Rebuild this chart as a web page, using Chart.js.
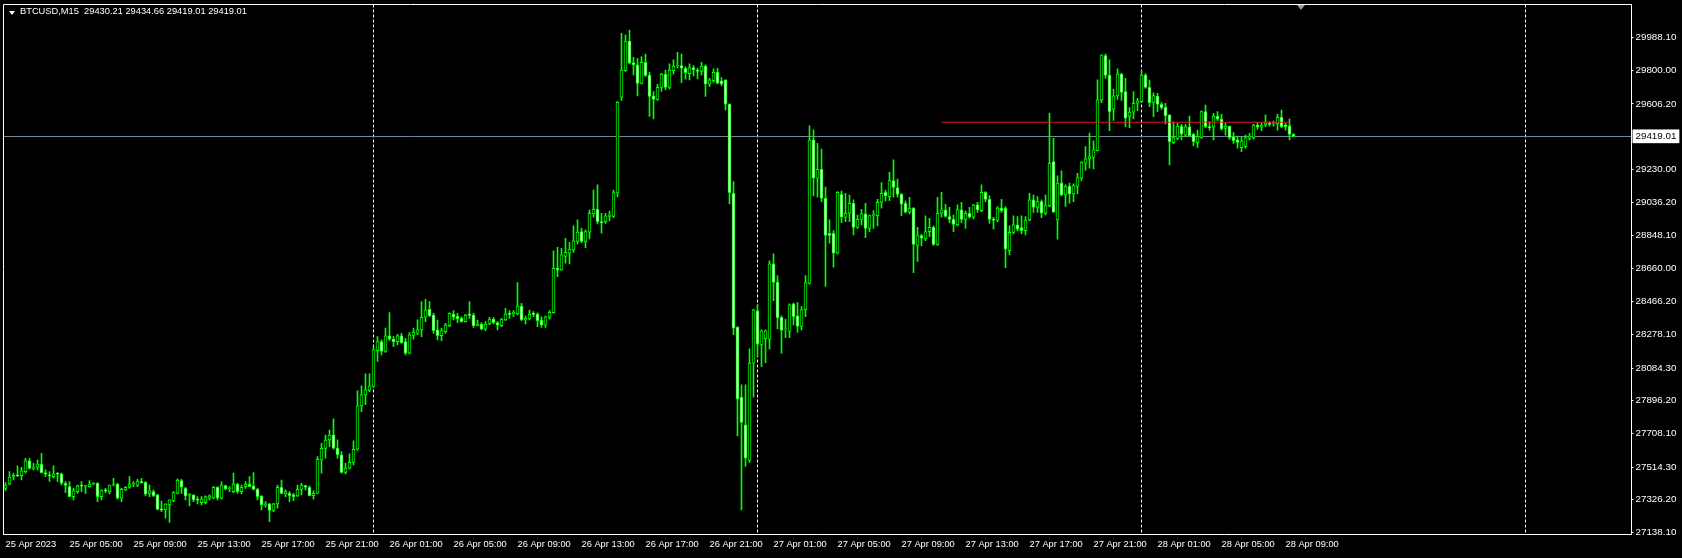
<!DOCTYPE html>
<html>
<head>
<meta charset="utf-8">
<title>BTCUSD,M15</title>
<script src="https://cdn.jsdelivr.net/npm/chart.js@4.4.1/dist/chart.umd.min.js"></script>
<style>
  html, body { margin: 0; padding: 0; background: #000; }
  #wrap { position: relative; width: 1682px; height: 558px; overflow: hidden; background: #000; }
  canvas { display: block; }
  #caption {
    position: absolute; left: 20px; top: 6px;
    color: #fff; font: 9.3px "Liberation Sans", Arial, sans-serif; white-space: pre;
  }
  #menu {
    position: absolute; left: 9px; top: 11px; width: 0; height: 0;
    border-left: 3px solid transparent; border-right: 3px solid transparent; border-top: 4px solid #fff;
  }
  #shift {
    position: absolute; left: 1297px; top: 5px; width: 0; height: 0;
    border-left: 4px solid transparent; border-right: 4px solid transparent; border-top: 5px solid #8f9bb0;
  }
</style>
</head>
<body>
<div id="wrap">
  <canvas id="chart" width="1682" height="558"></canvas>
  <div id="menu"></div>
  <div id="caption"></div>
  <div id="shift"></div>
</div>
<script>
// BTCUSD M15 candles, 25 Apr 2023 01:00 .. 28 Apr 2023 09:30
const SYMBOL = "BTCUSD,M15";
const START = Date.UTC(2023, 3, 25, 1, 0);
const BAR_MINUTES = 15;
const SLOTS = 407;            // candles + empty room on the right

const opens = [
  27392, 27417, 27456, 27467, 27465, 27488, 27550, 27507, 27513, 27532,
  27482, 27469, 27459, 27475, 27475, 27421, 27402, 27344, 27373, 27406,
  27404, 27402, 27417, 27421, 27344, 27379, 27373, 27411, 27417, 27335,
  27383, 27398, 27417, 27408, 27431, 27427, 27363, 27373, 27354, 27271,
  27268, 27296, 27319, 27363, 27436, 27392, 27352, 27354, 27325, 27310,
  27310, 27335, 27335, 27398, 27335, 27408, 27388, 27373, 27417, 27373,
  27402, 27417, 27406, 27386, 27348, 27296, 27302, 27264, 27302, 27398,
  27360, 27363, 27354, 27348, 27386, 27408, 27398, 27350, 27363, 27555,
  27622, 27670, 27700, 27623, 27585, 27483, 27508, 27541, 27617, 27867,
  27930, 27955, 27978, 28185, 28237, 28180, 28270, 28251, 28237, 28270,
  28237, 28170, 28272, 28285, 28304, 28377, 28423, 28390, 28304, 28271,
  28294, 28329, 28396, 28384, 28371, 28352, 28390, 28390, 28329, 28338,
  28309, 28338, 28367, 28346, 28329, 28361, 28396, 28396, 28396, 28442,
  28361, 28367, 28396, 28396, 28361, 28332, 28377, 28404, 28659, 28650,
  28727, 28746, 28765, 28813, 28871, 28813, 28867, 28972, 28999, 28928,
  28928, 28957, 28957, 29091, 29644, 29797, 29968, 29843, 29830, 29724,
  29845, 29772, 29652, 29632, 29701, 29778, 29700, 29797, 29824, 29826,
  29811, 29780, 29815, 29801, 29792, 29824, 29719, 29740, 29788, 29738,
  29744, 29604, 29091, 28320, 27917, 27758, 27552, 28113, 28414, 28218,
  28253, 28251, 28684, 28579, 28377, 28304, 28295, 28454, 28385, 28324,
  28420, 28573, 29398, 29178, 29229, 29062, 28861, 28861, 28746, 29085,
  28953, 28976, 29033, 28895, 28941, 28972, 28889, 28962, 28962, 29039,
  29097, 29072, 29164, 29124, 29085, 29033, 28982, 29005, 28790, 28847,
  28828, 28870, 28895, 28797, 28976, 28995, 28957, 28941, 28909, 28995,
  28941, 28976, 28953, 29024, 28991, 29097, 29056, 28943, 28934, 29005,
  29005, 28761, 28865, 28909, 28893, 28876, 28937, 29053, 29010, 29043,
  28976, 29020, 29274, 28938, 29149, 29082, 29133, 29087, 29130, 29178,
  29264, 29289, 29298, 29337, 29629, 29884, 29772, 29575, 29652, 29778,
  29677, 29533, 29558, 29609, 29618, 29772, 29701, 29614, 29651, 29603,
  29586, 29542, 29382, 29407, 29478, 29426, 29474, 29430, 29382, 29413,
  29561, 29474, 29471, 29536, 29518, 29465, 29478, 29417, 29398, 29353,
  29359, 29407, 29413, 29484, 29471, 29484, 29497, 29490, 29490, 29528,
  29484, 29480, 29430.21
];

const highs = [
  27425, 27488, 27479, 27521, 27513, 27565, 27565, 27536, 27555, 27594,
  27498, 27488, 27521, 27482, 27479, 27431, 27431, 27392, 27411, 27431,
  27411, 27436, 27425, 27425, 27383, 27392, 27411, 27450, 27421, 27392,
  27402, 27459, 27431, 27444, 27450, 27431, 27411, 27383, 27358, 27319,
  27302, 27325, 27373, 27446, 27444, 27398, 27363, 27354, 27344, 27344,
  27348, 27354, 27402, 27402, 27431, 27411, 27402, 27479, 27421, 27411,
  27431, 27459, 27482, 27392, 27348, 27315, 27306, 27306, 27411, 27440,
  27383, 27373, 27363, 27411, 27421, 27411, 27406, 27377, 27574, 27651,
  27699, 27728, 27792, 27671, 27604, 27537, 27590, 27665, 27953, 27982,
  28051, 28051, 28208, 28266, 28247, 28314, 28404, 28266, 28279, 28285,
  28256, 28289, 28314, 28362, 28467, 28480, 28467, 28400, 28361, 28313,
  28342, 28403, 28415, 28400, 28380, 28394, 28467, 28400, 28361, 28346,
  28352, 28377, 28375, 28352, 28371, 28428, 28415, 28415, 28576, 28457,
  28384, 28419, 28409, 28403, 28380, 28384, 28415, 28759, 28780, 28774,
  28832, 28809, 28903, 28938, 28890, 28880, 28995, 29110, 29139, 28976,
  28976, 28989, 29110, 29619, 30012, 30003, 30031, 29874, 29868, 29878,
  29893, 29788, 29677, 29719, 29782, 29801, 29836, 29859, 29903, 29893,
  29820, 29836, 29826, 29811, 29845, 29830, 29753, 29807, 29811, 29757,
  29744, 29606, 29158, 28324, 27988, 27988, 28195, 28423, 28448, 28304,
  28304, 28702, 28742, 28617, 28385, 28366, 28454, 28458, 28462, 28439,
  28617, 29479, 29456, 29379, 29345, 29126, 28938, 28876, 29101, 29104,
  29091, 29081, 29053, 28966, 28999, 29033, 28966, 28991, 29056, 29152,
  29110, 29212, 29283, 29172, 29091, 29047, 29068, 29008, 28895, 28855,
  28961, 28947, 28903, 29068, 29097, 29028, 29010, 28966, 29024, 29039,
  28989, 29010, 29028, 29039, 29139, 29101, 29076, 28953, 29014, 29056,
  29014, 28903, 28961, 28957, 28961, 28957, 29091, 29081, 29072, 29053,
  29081, 29552, 29408, 29191, 29220, 29139, 29149, 29145, 29206, 29274,
  29360, 29437, 29393, 29744, 29888, 29893, 29859, 29690, 29807, 29782,
  29753, 29584, 29677, 29638, 29795, 29780, 29743, 29670, 29666, 29613,
  29609, 29542, 29503, 29494, 29488, 29488, 29536, 29436, 29455, 29565,
  29599, 29503, 29551, 29561, 29545, 29494, 29478, 29440, 29421, 29417,
  29426, 29436, 29488, 29499, 29497, 29542, 29503, 29507, 29547, 29570,
  29494, 29518, 29434.66
];

const lows = [
  27379, 27411, 27440, 27459, 27440, 27479, 27502, 27498, 27498, 27479,
  27459, 27431, 27450, 27431, 27411, 27367, 27344, 27325, 27363, 27373,
  27363, 27398, 27411, 27315, 27325, 27367, 27360, 27406, 27329, 27315,
  27379, 27392, 27402, 27402, 27421, 27348, 27344, 27344, 27268, 27258,
  27220, 27195, 27315, 27360, 27363, 27325, 27290, 27315, 27302, 27296,
  27302, 27325, 27331, 27325, 27329, 27383, 27373, 27367, 27363, 27360,
  27392, 27402, 27383, 27325, 27268, 27283, 27200, 27258, 27277, 27360,
  27344, 27315, 27321, 27344, 27354, 27383, 27348, 27329, 27363, 27479,
  27565, 27632, 27617, 27565, 27479, 27475, 27502, 27527, 27610, 27834,
  27873, 27949, 27974, 28122, 28160, 28174, 28243, 28208, 28218, 28227,
  28160, 28166, 28251, 28276, 28265, 28352, 28380, 28284, 28246, 28242,
  28284, 28323, 28361, 28346, 28348, 28348, 28371, 28319, 28327, 28304,
  28300, 28334, 28338, 28304, 28323, 28357, 28371, 28380, 28390, 28357,
  28338, 28361, 28380, 28323, 28319, 28319, 28367, 28400, 28611, 28646,
  28688, 28684, 28751, 28799, 28807, 28778, 28828, 28953, 28915, 28861,
  28918, 28932, 28951, 29072, 29625, 29792, 29836, 29772, 29651, 29721,
  29763, 29533, 29519, 29625, 29677, 29686, 29692, 29778, 29811, 29728,
  29748, 29744, 29767, 29749, 29772, 29648, 29705, 29730, 29721, 29711,
  29571, 29030, 28276, 27694, 27268, 27518, 27541, 27917, 28151, 28093,
  28116, 28193, 28473, 28310, 28170, 28260, 28260, 28333, 28289, 28304,
  28381, 28567, 29076, 29068, 29043, 28554, 28803, 28665, 28742, 28922,
  28928, 28928, 28851, 28888, 28909, 28836, 28870, 28889, 28903, 29005,
  29047, 29049, 29068, 29068, 28962, 28976, 28972, 28634, 28698, 28788,
  28818, 28841, 28790, 28790, 28953, 28953, 28922, 28870, 28903, 28922,
  28889, 28947, 28943, 28980, 28985, 29043, 28918, 28884, 28928, 28980,
  28663, 28736, 28857, 28876, 28857, 28851, 28932, 28980, 28980, 28951,
  28966, 29014, 28980, 28826, 29076, 29015, 29034, 29043, 29087, 29164,
  29222, 29235, 29231, 29335, 29613, 29753, 29452, 29510, 29632, 29625,
  29475, 29469, 29519, 29567, 29612, 29695, 29590, 29532, 29561, 29574,
  29490, 29254, 29378, 29398, 29398, 29417, 29417, 29363, 29353, 29407,
  29469, 29455, 29398, 29509, 29455, 29426, 29401, 29378, 29350, 29330,
  29350, 29398, 29403, 29459, 29451, 29474, 29478, 29478, 29455, 29469,
  29455, 29398, 29419.01
];

const closes = [
  27411, 27456, 27467, 27463, 27492, 27550, 27507, 27513, 27532, 27482,
  27473, 27463, 27475, 27473, 27421, 27408, 27344, 27379, 27406, 27404,
  27406, 27417, 27421, 27344, 27379, 27377, 27411, 27417, 27335, 27386,
  27398, 27417, 27421, 27434, 27425, 27358, 27377, 27350, 27271, 27268,
  27302, 27325, 27367, 27440, 27398, 27348, 27354, 27325, 27323, 27331,
  27344, 27348, 27398, 27335, 27411, 27388, 27392, 27417, 27373, 27398,
  27417, 27402, 27386, 27344, 27296, 27302, 27264, 27302, 27398, 27363,
  27373, 27350, 27344, 27386, 27411, 27398, 27350, 27363, 27559, 27622,
  27670, 27699, 27623, 27585, 27483, 27508, 27542, 27617, 27867, 27930,
  27959, 27982, 28189, 28237, 28180, 28270, 28251, 28237, 28270, 28231,
  28170, 28276, 28291, 28304, 28377, 28419, 28384, 28300, 28271, 28300,
  28332, 28400, 28377, 28367, 28352, 28390, 28388, 28329, 28338, 28309,
  28338, 28367, 28346, 28332, 28367, 28396, 28394, 28405, 28442, 28361,
  28371, 28394, 28394, 28357, 28332, 28380, 28405, 28659, 28650, 28736,
  28751, 28769, 28817, 28867, 28813, 28871, 28976, 28999, 28928, 28922,
  28961, 28966, 29095, 29615, 29801, 29968, 29840, 29830, 29724, 29845,
  29769, 29648, 29632, 29701, 29778, 29700, 29801, 29824, 29826, 29811,
  29786, 29815, 29801, 29792, 29824, 29719, 29744, 29788, 29725, 29721,
  29604, 29095, 28314, 27905, 27771, 27566, 28113, 28420, 28222, 28299,
  28299, 28684, 28577, 28375, 28301, 28304, 28448, 28381, 28324, 28420,
  28577, 29398, 29178, 29229, 29062, 28848, 28848, 28746, 29097, 28953,
  28976, 29033, 28895, 28941, 28972, 28889, 28962, 28962, 29039, 29091,
  29076, 29164, 29124, 29085, 29028, 28982, 29005, 28797, 28847, 28832,
  28870, 28895, 28797, 28976, 28995, 28957, 28941, 28912, 28995, 28941,
  28976, 28953, 29024, 28995, 29097, 29056, 28941, 28934, 29005, 28991,
  28769, 28866, 28909, 28884, 28876, 28937, 29053, 29010, 29043, 28976,
  29020, 29264, 28982, 29149, 29082, 29130, 29087, 29135, 29181, 29268,
  29289, 29302, 29341, 29629, 29888, 29769, 29561, 29652, 29778, 29671,
  29523, 29558, 29609, 29623, 29772, 29701, 29613, 29653, 29603, 29584,
  29538, 29388, 29411, 29478, 29432, 29474, 29423, 29388, 29417, 29561,
  29474, 29469, 29536, 29518, 29461, 29478, 29411, 29394, 29384, 29392,
  29411, 29421, 29484, 29471, 29484, 29497, 29488, 29490, 29528, 29474,
  29474, 29430, 29419.01
];

const xTickLabels = [
  "25 Apr 2023", "25 Apr 05:00", "25 Apr 09:00", "25 Apr 13:00", "25 Apr 17:00", "25 Apr 21:00",
  "26 Apr 01:00", "26 Apr 05:00", "26 Apr 09:00", "26 Apr 13:00", "26 Apr 17:00", "26 Apr 21:00",
  "27 Apr 01:00", "27 Apr 05:00", "27 Apr 09:00", "27 Apr 13:00", "27 Apr 17:00", "27 Apr 21:00",
  "28 Apr 01:00", "28 Apr 05:00", "28 Apr 09:00"
];
const priceTicks = [
  27138.10, 27326.20, 27514.30, 27708.10, 27896.20, 28084.30, 28278.10, 28466.20,
  28660.00, 28848.10, 29036.20, 29230.00, 29606.20, 29800.00, 29988.10
];
const bidPrice = 29419.01;
const levelPrice = 29500;
const levelFrom = "27 Apr 11:30";
const levelTo = "28 Apr 09:15";

const LIME = "#00ff00";
const FONT = { family: '"Liberation Sans", Arial, sans-serif', size: 9.3 };
const PRICE_FONT = { family: '"Liberation Sans", Arial, sans-serif', size: 9.8 };

if (new Set([opens.length, highs.length, lows.length, closes.length]).size !== 1) {
  throw new Error("OHLC arrays differ in length");
}

// slot labels: one per 15 min bar
const MONTHS = ["Jan", "Feb", "Mar", "Apr", "May", "Jun", "Jul", "Aug", "Sep", "Oct", "Nov", "Dec"];
const pad = (n) => String(n).padStart(2, "0");
const slotLabels = [];
for (let i = 0; i < SLOTS; i++) {
  const d = new Date(START + i * BAR_MINUTES * 60000);
  slotLabels.push(`${d.getUTCDate()} ${MONTHS[d.getUTCMonth()]} ${pad(d.getUTCHours())}:${pad(d.getUTCMinutes())}`);
}
const isDayStart = (i) => i >= 0 && i < SLOTS && slotLabels[i].endsWith("00:00");

const bodies = opens.map((o, i) => [Math.min(o, closes[i]), Math.max(o, closes[i])]);
const wicks = lows.map((l, i) => [l, highs[i]]);
const bodyFill = opens.map((o, i) => (closes[i] < o ? "#ffffff" : "#000000"));
const levelLine = slotLabels.map((l) => (l === levelFrom || l === levelTo ? levelPrice : null));

document.getElementById("caption").textContent =
  `${SYMBOL}  ${opens[opens.length - 1].toFixed(2)} ${highs[highs.length - 1].toFixed(2)} ` +
  `${lows[lows.length - 1].toFixed(2)} ${closes[closes.length - 1].toFixed(2)}`;

const framePlugin = {
  id: "frame",
  afterDatasetsDraw(chart) {
    const { ctx, chartArea: a } = chart;
    ctx.save();
    ctx.strokeStyle = "#ffffff";
    ctx.lineWidth = 1;
    ctx.beginPath();
    ctx.moveTo(a.left, a.bottom);
    ctx.lineTo(a.left, a.top);
    ctx.lineTo(a.right, a.top);
    ctx.stroke();
    ctx.restore();
  },
};

new Chart(document.getElementById("chart"), {
  type: "bar",
  data: {
    labels: slotLabels,
    datasets: [
      {
        type: "line",
        data: levelLine,
        borderColor: "#e3102c",
        borderWidth: 1,
        pointRadius: 0,
        spanGaps: true,
        order: 0,
      },
      {
        data: bodies,
        backgroundColor: bodyFill,
        borderColor: LIME,
        borderWidth: 1,
        borderSkipped: false,
        barThickness: 3,
        minBarLength: 1,
        grouped: false,
        order: 1,
      },
      {
        data: wicks,
        backgroundColor: LIME,
        borderWidth: 0,
        barThickness: 1,
        grouped: false,
        order: 2,
      },
    ],
  },
  options: {
    responsive: false,
    animation: false,
    events: [],
    layout: { padding: { left: 3.5, top: 4.5, right: 0, bottom: 0 } },
    plugins: { legend: { display: false }, tooltip: { enabled: false } },
    scales: {
      x: {
        type: "category",
        offset: true,
        grid: {
          offset: false,
          drawTicks: false,
          lineWidth: 1,
          color: (c) => (isDayStart(c.index) ? "#ffffff" : "rgba(0,0,0,0)"),
        },
        border: { display: true, color: "#ffffff", dash: [3, 2] },
        ticks: {
          autoSkip: false,
          maxRotation: 0,
          minRotation: 0,
          align: "start",
          padding: 4,
          color: "#ffffff",
          font: FONT,
          callback: (v, i) => (i % 16 === 0 && xTickLabels[i / 16]) || "",
        },
        afterFit: (s) => {
          s.height = 23.5;
          s.paddingLeft = 0;
          s.paddingRight = 0;
        },
      },
      y: {
        type: "linear",
        position: "right",
        min: 27126,
        max: 30178,
        afterBuildTicks: (s) => {
          s.ticks = [...priceTicks, bidPrice].map((v) => ({ value: v }));
        },
        afterFit: (s) => {
          s.width = 50.5;
          s.paddingTop = 0;
          s.paddingBottom = 0;
        },
        grid: {
          drawOnChartArea: true,
          drawTicks: true,
          tickLength: 2,
          color: (c) => (c.tick && c.tick.value === bidPrice ? "#778899" : "rgba(0,0,0,0)"),
          tickColor: (c) => (c.tick && c.tick.value === bidPrice ? "rgba(0,0,0,0)" : "#ffffff"),
        },
        border: { display: true, color: "#ffffff" },
        ticks: {
          padding: 2,
          font: PRICE_FONT,
          color: (c) => (c.tick && c.tick.value === bidPrice ? "#000000" : "#ffffff"),
          showLabelBackdrop: (c) => !!(c.tick && c.tick.value === bidPrice),
          backdropColor: "#ffffff",
          backdropPadding: { top: 1, bottom: 1, left: 3, right: 3 },
          callback: (v) => Number(v).toFixed(2),
        },
      },
    },
  },
  plugins: [framePlugin],
});
</script>
</body>
</html>
